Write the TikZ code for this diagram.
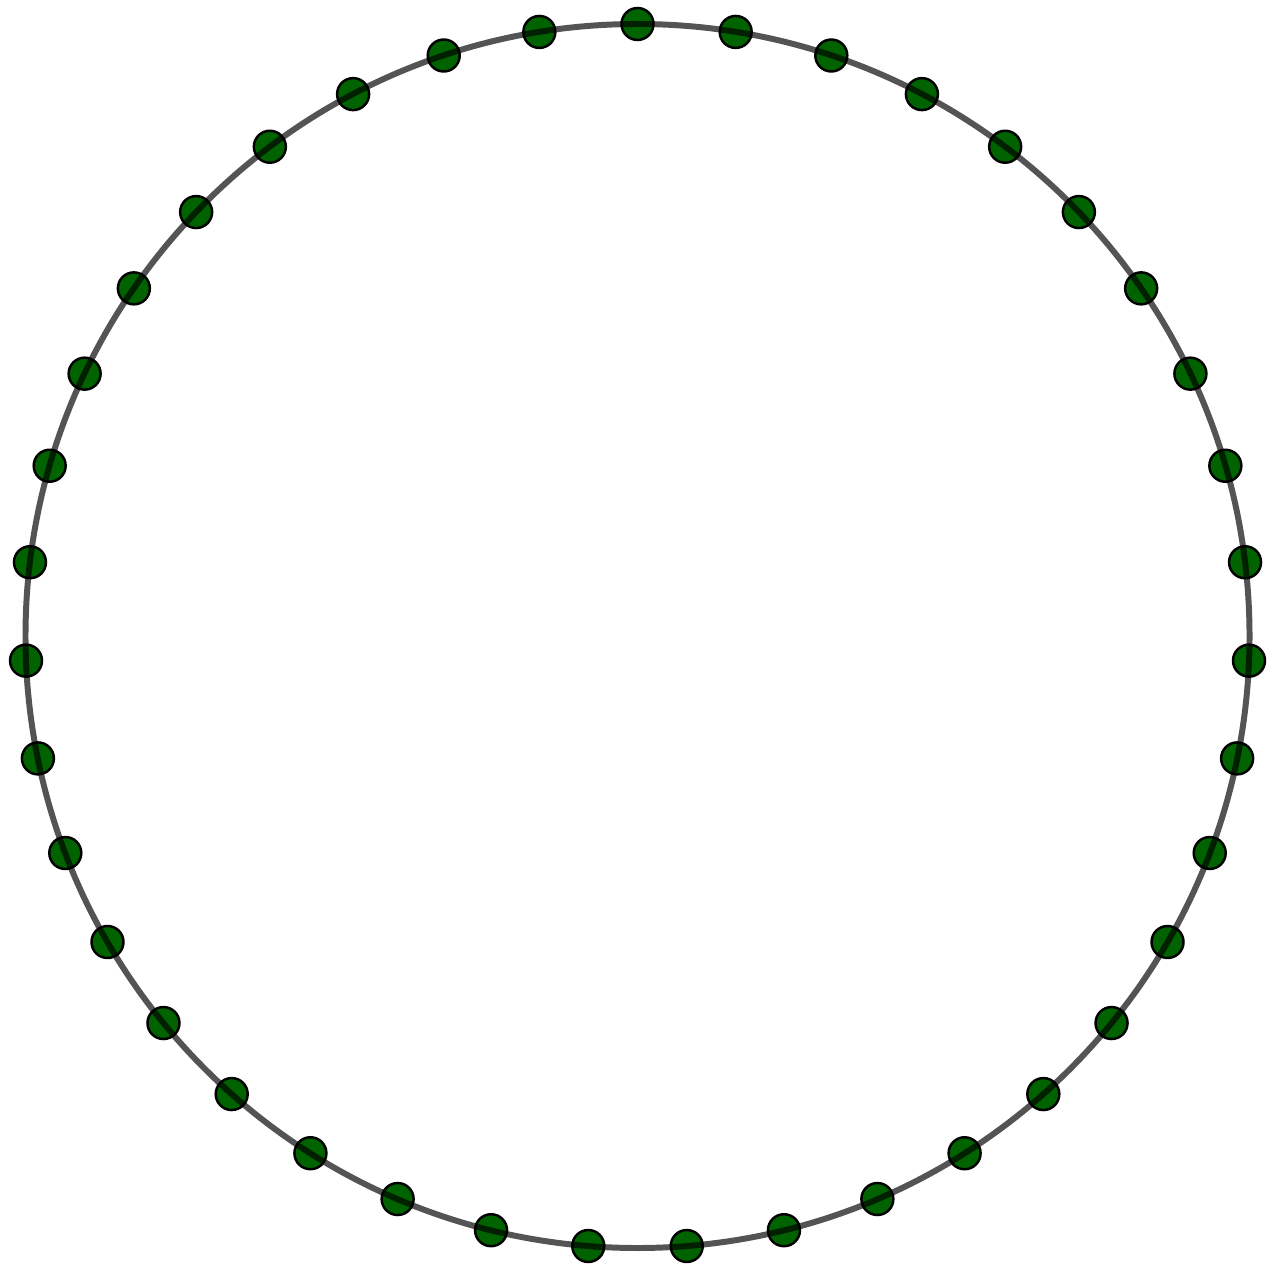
\documentclass[tikz,border=0pt]{standalone}
\usepackage{tikz}
\usetikzlibrary{calc}

\tikzset{
    ringdot/.style={circle, draw=black, line width=0.7pt, fill=green!39!black, minimum size=0.32cm, inner sep=0pt},
    ringline/.style={draw=black, opacity=0.67, line width=1.7pt}
}

\begin{document}
\begin{tikzpicture}[scale=1]
    \useasboundingbox (0,0) rectangle (12.77,12.67);
    \coordinate (centre) at (6.375,6.31);
    % 39 dots, starting at the top
    \foreach \i in {0,...,38} {
        \node[ringdot] (d\i) at ($(centre)+({90-\i*360/39}:6.12)$) {};
    }
    \draw[ringline] (centre) circle (6.12);
\end{tikzpicture}
\end{document}
